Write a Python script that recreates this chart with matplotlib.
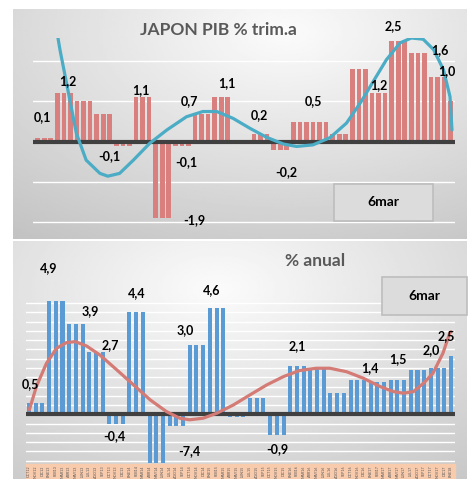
import numpy as np
import matplotlib
matplotlib.use('Agg')
from matplotlib import pyplot as plt
from matplotlib.patches import Rectangle

plt.rcParams['font.family'] = ['Lato', 'DejaVu Sans']

# quarterly figures, each one shown over its three months
trim_q = [0.1, 1.2, 1.0, 0.7, -0.1, 1.1, -1.9, -0.1, 0.7, 1.1, 0.0,
          0.2, -0.2, 0.5, 0.5, 0.2, 1.8, 1.2, 2.5, 2.2, 1.6, 1.0]
anual_q = [0.5, 4.9, 3.9, 2.7, -0.4, 4.4, -7.4, -0.5, 3.0, 4.6, -0.1,
           0.7, -0.9, 2.1, 2.0, 0.9, 1.5, 1.4, 1.5, 1.9, 2.0, 2.5]
n_months = 64

# polynomial trend lines, sampled along the month axis
trim_trend_x = [3.1, 3.4, 4.4, 5.9, 7.4, 9.5, 10.7, 12.5, 14.6, 17.1, 19.7,
                22.7, 25.2, 27.3, 29.8, 32.4, 34.9, 37.5, 39.5, 42.0, 44.6,
                47.1, 49.2, 51.2, 53.2, 55.3, 57.0, 58.8, 60.4, 61.9, 62.9, 63.2]
trim_trend_y = [2.58, 2.29, 1.46, 0.21, -0.46, -0.79, -0.86, -0.79, -0.46,
                -0.04, 0.29, 0.62, 0.75, 0.75, 0.58, 0.33, 0.11, -0.06, -0.12,
                -0.08, 0.10, 0.46, 0.96, 1.50, 2.04, 2.46, 2.58, 2.55, 2.29,
                1.79, 1.12, 0.29]
anual_trend_x = [0.05, 1.1, 2.6, 4.1, 5.6, 6.9, 8.6, 10.6, 13.1, 15.6, 18.1,
                 20.5, 22.5, 24.0, 26.0, 28.0, 30.5, 33.0, 35.5, 38.0, 40.4,
                 42.9, 44.9, 47.4, 49.9, 52.4, 54.4, 55.9, 57.4, 58.9, 60.3,
                 61.8, 62.8, 63.0]
anual_trend_y = [0.19, 1.2, 2.2, 2.85, 3.1, 3.14, 2.95, 2.56, 1.92, 1.27, 0.62,
                 0.12, -0.17, -0.24, -0.17, 0.04, 0.40, 0.84, 1.27, 1.63, 1.89,
                 1.99, 1.99, 1.84, 1.56, 1.20, 0.98, 0.91, 0.98, 1.34, 1.77,
                 2.64, 3.50, 3.57]

meses = ['ENE', 'FEB', 'MAR', 'ABR', 'MAY', 'JUN',
         'JUL', 'AGO', 'SEP', 'OCT', 'NOV', 'DIC']
month_labels = []
for k in range(n_months):
    m = (9 + k) % 12
    yy = 12 + (9 + k) // 12
    month_labels.append(f'{meses[m]}{yy}')

# value labels: (text, x in months, y in data units)
trim_labels = [('0,1', 0.8, 0.61), ('1,2', 4.6, 1.5), ('-0,1', 11, -0.37),
               ('1,1', 15.8, 1.28), ('-0,1', 22.7, -0.52), ('-1,9', 23.9, -1.96),
               ('0,7', 23.2, 1.0), ('1,1', 28.8, 1.46), ('0,2', 33.9, 0.67),
               ('-0,2', 37.9, -0.75), ('0,5', 42.0, 1.0), ('1,2', 52.1, 1.42),
               ('2,5', 54.2, 2.87), ('1,6', 61.3, 2.29), ('1,0', 62.4, 1.75)]
anual_labels = [('0,5', 0.2, 1.31), ('4,9', 3.0, 6.31), ('3,9', 9.2, 4.44),
                ('2,7', 12.2, 3.0), ('-0,4', 12.8, -0.94), ('4,4', 16.1, 5.26),
                ('-7,4', 23.9, -1.61), ('3,0', 23.3, 3.65), ('4,6', 27.3, 5.37),
                ('-0,9', 37.0, -1.51), ('2,1', 40.0, 2.93), ('1,4', 50.9, 1.99),
                ('1,5', 55.0, 2.38), ('2,0', 60.1, 2.78), ('2,5', 62.3, 3.36)]


def monthly(q):
    return np.repeat(q, 3)[:n_months]


W, H = 470, 479
fig = plt.figure(figsize=(W / 100, H / 100), dpi=100)


def fig_rect(x0, y0, x1, y1):
    # pixel box (top-left origin) -> figure fraction rect
    return [x0 / W, 1 - y1 / H, (x1 - x0) / W, (y1 - y0) / H]


def panel_bg(x0, y0, x1, y1, cx, cy):
    bg = fig.add_axes(fig_rect(x0, y0, x1, y1))
    gx, gy = np.meshgrid(np.linspace(0, 1, 200), np.linspace(0, 1, 200))
    r = np.sqrt(((gx - cx) / 0.9) ** 2 + ((gy - cy) / 1.0) ** 2)
    shade = 0.985 - 0.2 * np.clip(r, 0, 1.2)
    bg.imshow(shade, cmap='gray', vmin=0, vmax=1, aspect='auto',
              extent=(0, 1, 1, 0))
    bg.set_xlim(0, 1)
    bg.set_ylim(1, 0)
    bg.set_axis_off()
    return bg


panel_bg(13, 9, 467, 239, 0.6, 0.1)
bg2 = panel_bg(13, 241, 467, 479, 0.45, 0.2)
# peach strip behind the month labels
bg2.add_patch(Rectangle(((26 - 13) / 454, (464 - 241) / 238), 429 / 454,
                        15 / 238, color='#F8CBAD'))


def draw(ax, q, color, bar_w, tx, ty, line_color, ylim, grid, labels):
    y = monthly(q)
    x = np.arange(n_months)
    ax.set_facecolor('none')
    for g in grid:
        ax.axhline(g, color='white', lw=1.0, zorder=1)
    ax.bar(x, y, width=bar_w, color=color, zorder=2)
    ax.axhline(0, color='#404040', lw=3, zorder=3)
    ax.plot(tx, ty, color=line_color, lw=2.3, zorder=4,
            solid_capstyle='round', solid_joinstyle='round')
    for t, lx, ly in labels:
        ax.text(lx, ly, t, ha='center', va='center', fontsize=9,
                fontweight='bold', color='black', clip_on=False, zorder=5)
    ax.set_ylim(*ylim)
    for s in ax.spines.values():
        s.set_visible(False)
    ax.set_yticks([])


ax1 = fig.add_axes(fig_rect(33, 38, 455, 224))
draw(ax1, trim_q, '#D9807F', 0.7, trim_trend_x, trim_trend_y, '#4BACC6',
     (-2.05, 2.58), [-2, -1, 1, 2], trim_labels)
ax1.set_xlim(-0.71, 63.66)
ax1.set_xticks([])
fig.text(218 / W, 1 - 30 / H, 'JAPON PIB % trim.a', ha='center', va='center',
         fontsize=12.5, fontweight='bold', color='#595959')

ax2 = fig.add_axes(fig_rect(26, 298.6, 455, 463.3))
draw(ax2, anual_q, '#5B9BD5', 0.6, anual_trend_x, anual_trend_y, '#D47B76',
     (-2.12, 5.0), np.arange(-2.0, 4.81, 0.4), anual_labels)
ax2.set_xlim(-0.45, 63.6)
ax2.set_xticks(np.arange(n_months))
ax2.set_xticklabels(month_labels, rotation=90, fontsize=2.6, color='#555555')
ax2.tick_params(axis='x', length=0, pad=1.5)
fig.text(315 / W, 1 - 261 / H, '% anual', ha='center', va='center',
         fontsize=12.5, fontweight='bold', color='#595959')

# date boxes
for x0, y0, x1, y1 in [(334, 184, 433, 221), (382, 277, 467, 315)]:
    fig.patches.append(Rectangle((x0 / W, 1 - y1 / H), (x1 - x0) / W,
                                 (y1 - y0) / H, transform=fig.transFigure,
                                 facecolor='#DCDCDC', edgecolor='#BDBDBD',
                                 lw=1.2, zorder=6))
    fig.text((x0 + x1) / 2 / W, 1 - (y0 + y1) / 2 / H, '6mar', ha='center',
             va='center', fontsize=10, fontweight='bold', color='black',
             zorder=7)

fig.savefig('out.png', dpi=100)
